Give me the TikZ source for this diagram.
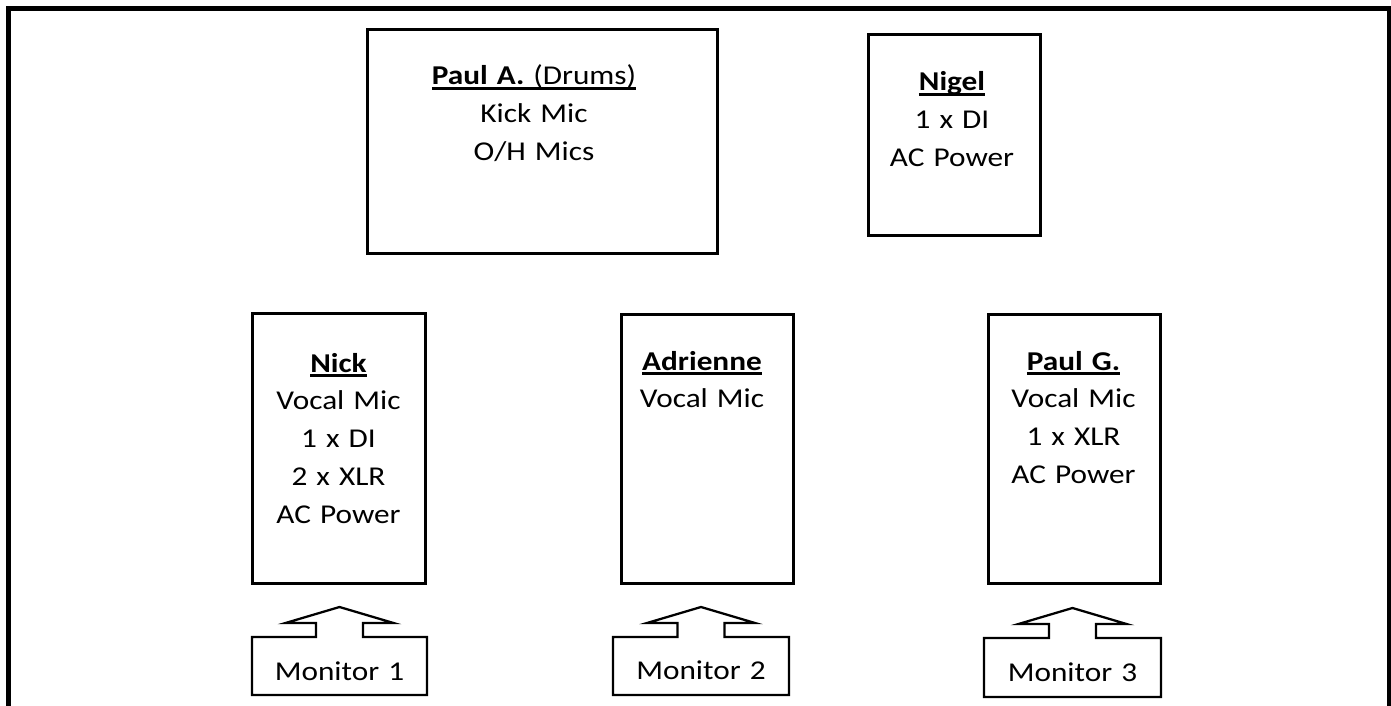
\documentclass[tikz,border=0pt]{standalone}
\usepackage{fontspec}
\setmainfont{Carlito}[FakeStretch=1.15]
\usetikzlibrary{calc}
\newdimen\px \px=0.75pt
\newcommand\ulx[1]{\setbox0\hbox{#1}\rlap{\rule[-0.17em]{\wd0}{0.09em}}\box0}
\begin{document}
\begin{tikzpicture}[x=0.75pt,y=-0.75pt,
  stagebox/.style={draw, line width=2.25pt, inner sep=0pt, outer sep=0pt, anchor=north west},
  txt/.style={font=\fontsize{20.4}{28.35}\selectfont, align=center, text width=280\px, inner sep=0pt, anchor=base},
  monbox/.style={draw=none, inner sep=0pt, outer sep=0pt},
  monline/.style={line width=1.7pt, line join=miter},
  frameline/.style={line width=3.75pt, line join=miter}]
\useasboundingbox (0,0) rectangle (1391,706);
% outer frame
\coordinate (fbl) at (8.5,760);
\coordinate (ftl) at (8.5,8.5);
\coordinate (ftr) at (1389,8.5);
\coordinate (fbr) at (1389,760);
\draw[frameline] (fbl) -- (ftl) -- (ftr) -- (fbr);
% stage boxes
\node[stagebox, minimum width=350\px, minimum height=223\px] (paula) at (367,30) {};
\node[stagebox, minimum width=172\px, minimum height=200\px] (nigel) at (868,35) {};
\node[stagebox, minimum width=173\px, minimum height=270\px] (nick) at (252,313) {};
\node[stagebox, minimum width=172\px, minimum height=269\px] (adrienne) at (621,314) {};
\node[stagebox, minimum width=172\px, minimum height=269\px] (paulg) at (988,314) {};
% texts
\node[txt] (paulat) at (534,85) {\ulx{\textbf{Paul A.} (Drums)}\\Kick Mic\\O/H Mics};
\node[txt] (nigelt) at (952,91) {\ulx{\textbf{Nigel}}\\1 x DI\\AC Power};
\node[txt] (nickt) at (338.5,372) {\ulx{\textbf{Nick}}\\Vocal Mic\\1 x DI\\2 x XLR\\AC Power};
\node[txt] (adriennet) at (702,370) {\ulx{\textbf{Adrienne}}\\Vocal Mic};
\node[txt] (paulgt) at (1073.5,370) {\ulx{\textbf{Paul G.}}\\Vocal Mic\\1 x XLR\\AC Power};
% monitors
\node[monbox, minimum width=175\px, minimum height=58\px] (m1) at (339.5,666) {};
\node[monbox, minimum width=176\px, minimum height=58\px] (m2) at (701,666) {};
\node[monbox, minimum width=177\px, minimum height=59\px] (m3) at (1072.5,667.5) {};
\foreach \m in {m1,m2,m3}{
  \draw[monline] (\m.south west) -- (\m.north west) -- ($(\m.north)+(-23.5,0)$) -- ++(0,-14) -- ++(-30.5,0)
    -- ($(\m.north)+(0,-30)$) -- ($(\m.north)+(54,-14)$) -- ++(-30.5,0) -- ++(0,14)
    -- (\m.north east) -- (\m.south east) -- cycle;
}
\node[txt] (m1t) at (339.5,680) {Monitor 1};
\node[txt] (m2t) at (701,679) {Monitor 2};
\node[txt] (m3t) at (1072.5,681) {Monitor 3};
\end{tikzpicture}
\end{document}
